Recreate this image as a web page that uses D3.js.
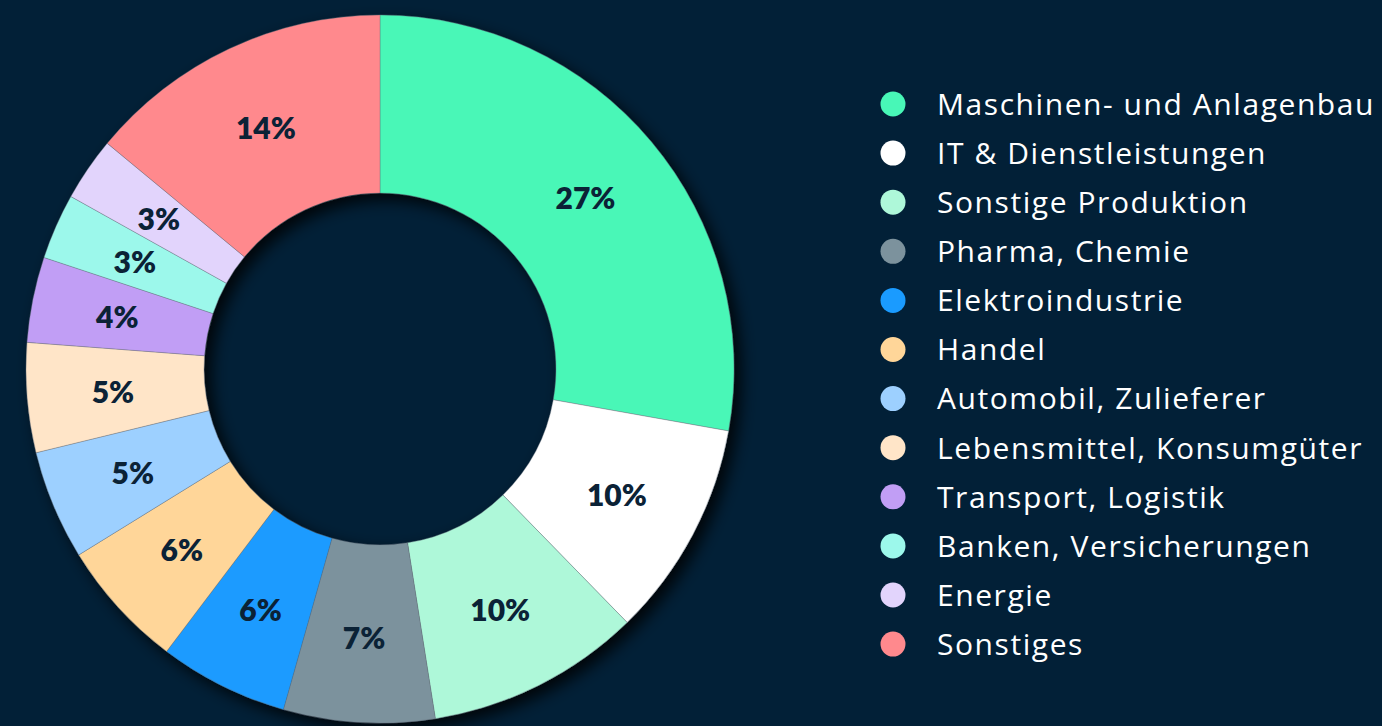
<!DOCTYPE html>
<html><head><meta charset="utf-8">
<script src="https://cdn.jsdelivr.net/npm/d3@7"></script>
<style>
html,body{margin:0;padding:0;background:#022037;}
svg{display:block;}
</style></head>
<body>
<svg id="chart" width="1382" height="726"></svg>
<script>
const categories = ["Maschinen- und Anlagenbau","IT & Dienstleistungen","Sonstige Produktion","Pharma, Chemie","Elektroindustrie","Handel","Automobil, Zulieferer","Lebensmittel, Konsumgüter","Transport, Logistik","Banken, Versicherungen","Energie","Sonstiges"];
const shares = [27.8, 9.9, 9.8, 6.9, 5.9, 5.9, 5.0, 5.0, 3.9, 3.0, 2.9, 14.0];
const percentLabels = ["27%","10%","10%","7%","6%","6%","5%","5%","4%","3%","3%","14%"];
const colors = ["#48F7B7","#FFFFFF","#AEF8D9","#7C929D","#1A9BFF","#FFD699","#9DD0FF","#FFE5C8","#C19EF5","#9CF8EB","#E2D4FC","#FF898D"];

const svg = d3.select("#chart");
const cx = 380, cy = 369, R = 354, r0 = 176, rLabel = 268;

const defs = svg.append("defs");
const f = defs.append("filter").attr("id","sh").attr("x","-20%").attr("y","-20%").attr("width","140%").attr("height","140%");
f.append("feDropShadow").attr("dx",7).attr("dy",7).attr("stdDeviation",8).attr("flood-color","#000").attr("flood-opacity",0.85);

const data = categories.map((c,i)=>({cat:c, value:shares[i], label:percentLabels[i], color:colors[i]}));
const pie = d3.pie().value(d=>d.value).sort(null);
const arc = d3.arc().innerRadius(r0).outerRadius(R);
const labelArc = d3.arc().innerRadius(rLabel).outerRadius(rLabel);
const arcs = pie(data);

const g = svg.append("g").attr("transform",`translate(${cx},${cy})`);
const ring = g.append("g").attr("filter","url(#sh)");
ring.selectAll("path").data(arcs).join("path")
  .attr("d",arc).attr("fill",d=>d.data.color)
  .attr("stroke","rgba(100,110,120,0.6)").attr("stroke-width",0.6);

g.selectAll("text.lbl").data(arcs).join("text").attr("class","lbl")
  .attr("transform",d=>`translate(${labelArc.centroid(d)})`)
  .attr("text-anchor","middle").attr("dominant-baseline","central")
  .attr("font-family","Lato, 'Open Sans', sans-serif").attr("font-weight",800)
  .attr("font-size",30).attr("fill","#0B2236")
  .text(d=>d.data.label);

const lx = 893, ly0 = 104, lstep = 49.1;
const leg = svg.append("g");
const items = leg.selectAll("g").data(data).join("g")
  .attr("transform",(d,i)=>`translate(${lx},${ly0 + i*lstep})`);
items.append("circle").attr("r",12.5).attr("fill",d=>d.color);
const txt = items.append("text").attr("x",44).attr("dy","0.36em")
  .attr("font-family","'Open Sans', Lato, sans-serif").attr("font-weight",400)
  .attr("font-size",30).attr("fill","#FFFFFF")
  .text(d=>d.cat);
// fit letter spacing so the first legend entry spans the reference width
const first = txt.node();
const w0 = first.getComputedTextLength();
const target = 438, n = categories[0].length;
const ls = Math.max(0, (target - w0) / n);
txt.attr("letter-spacing", ls + "px");
</script>
</body></html>
